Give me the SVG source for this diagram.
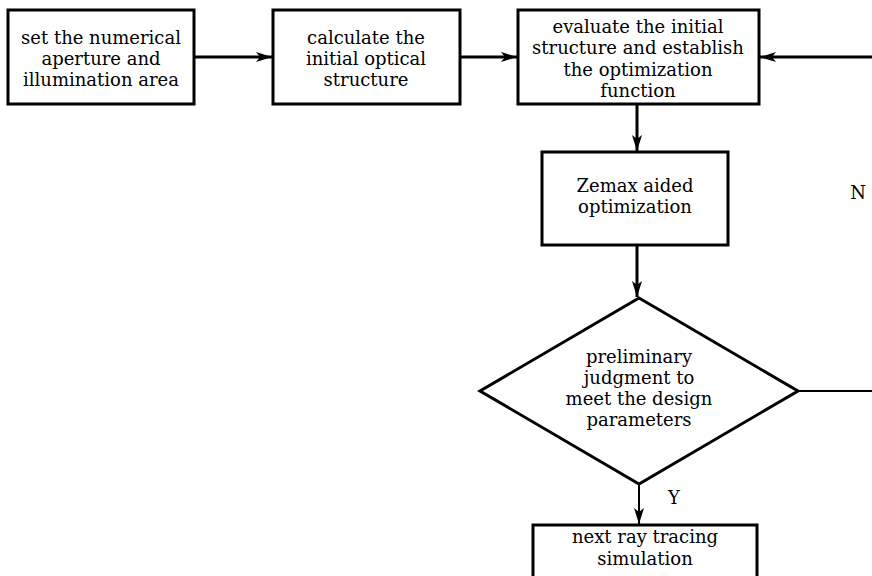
<svg xmlns="http://www.w3.org/2000/svg" width="872" height="576" viewBox="0 0 872 576">
<style>
.box{fill:#fff;stroke:#000;stroke-width:3}
.t{font-family:"DejaVu Serif","Liberation Serif",serif;font-size:18px;fill:#000;text-anchor:middle}
.c{fill:none;stroke:#000;stroke-width:3}
.c2{fill:none;stroke:#000;stroke-width:2}
</style>
<defs>
<marker id="ah" markerUnits="userSpaceOnUse" markerWidth="18" markerHeight="10" refX="16" refY="5" orient="auto">
<path d="M0,0 L16,5 L0,10 L4,5 Z" fill="#000"/>
</marker>
</defs>
<rect width="872" height="576" fill="#fff"/>
<g id="connectors">
<line class="c" x1="194" y1="57" x2="272" y2="57" marker-end="url(#ah)"/>
<line class="c" x1="460" y1="57" x2="517" y2="57" marker-end="url(#ah)"/>
<line class="c" x1="872" y1="57" x2="760" y2="57" marker-end="url(#ah)"/>
<line class="c" x1="637" y1="104" x2="637" y2="151" marker-end="url(#ah)"/>
<line class="c" x1="637" y1="245" x2="637" y2="297" marker-end="url(#ah)"/>
<line class="c2" x1="798" y1="391" x2="872" y2="391"/>
<line class="c2" x1="639" y1="484" x2="639" y2="524" marker-end="url(#ah)"/>
<text class="t" x="858" y="199">N</text>
<text class="t" x="674" y="504">Y</text>
</g>
<g id="n1">
<rect class="box" x="8" y="10" width="186" height="94"/>
<text class="t" x="101" y="44">set the numerical</text>
<text class="t" x="101" y="65">aperture and</text>
<text class="t" x="101" y="86">illumination area</text>
</g>
<g id="n2">
<rect class="box" x="273" y="10" width="187" height="94"/>
<text class="t" x="366" y="44">calculate the</text>
<text class="t" x="366" y="65">initial optical</text>
<text class="t" x="366" y="86">structure</text>
</g>
<g id="n3">
<rect class="box" x="518" y="10" width="241" height="94"/>
<text class="t" x="638" y="33">evaluate the initial</text>
<text class="t" x="638" y="54">structure and establish</text>
<text class="t" x="638" y="76">the optimization</text>
<text class="t" x="638" y="97">function</text>
</g>
<g id="n4">
<rect class="box" x="542" y="152" width="186" height="93"/>
<text class="t" x="635" y="192">Zemax aided</text>
<text class="t" x="635" y="213">optimization</text>
</g>
<g id="n5">
<polygon class="box" points="639,298 798,391 639,484 480,391"/>
<text class="t" x="639" y="363">preliminary</text>
<text class="t" x="639" y="384">judgment to</text>
<text class="t" x="639" y="405">meet the design</text>
<text class="t" x="639" y="426">parameters</text>
</g>
<g id="n6">
<rect class="box" x="533" y="525" width="224" height="70"/>
<text class="t" x="645" y="543">next ray tracing</text>
<text class="t" x="645" y="565">simulation</text>
</g>
</svg>
